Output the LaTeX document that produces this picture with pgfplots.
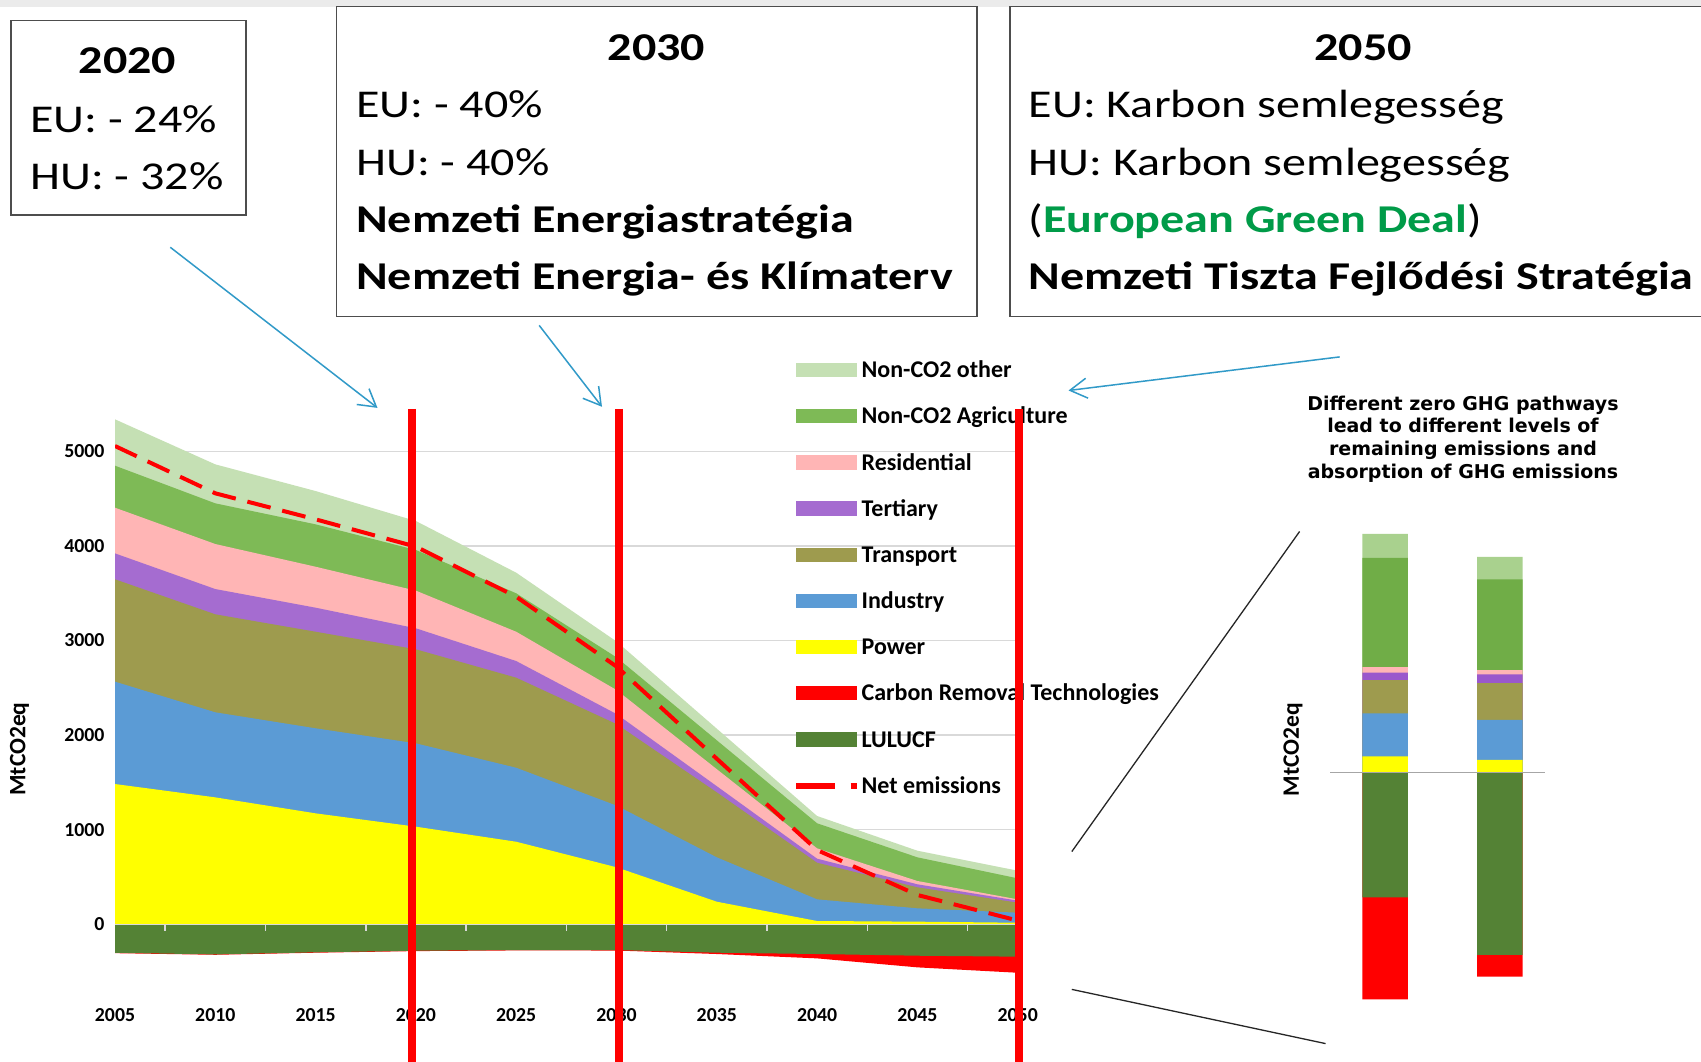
\documentclass[border=0pt]{standalone}
\usepackage{pgfplots}
\pgfplotsset{compat=1.18}
\usepackage{pgfplotstable}
\usepackage{fontspec}
\setmainfont{Carlito}
\newfontfamily\boxfont{Carlito}[FakeStretch=1.22]
\newfontfamily\titlefont{DejaVu Sans}
\usetikzlibrary{arrows.meta}

\definecolor{cOther}{HTML}{C5E0B4}
\definecolor{cAgri}{HTML}{7EBA56}
\definecolor{cRes}{HTML}{FFB5B5}
\definecolor{cTer}{HTML}{A56CD0}
\definecolor{cTra}{HTML}{9E9B4E}
\definecolor{cInd}{HTML}{5B9BD5}
\definecolor{cPow}{HTML}{FFFF00}
\definecolor{cCR}{HTML}{FF0000}
\definecolor{cLU}{HTML}{548235}
\definecolor{cGrid}{HTML}{D9D9D9}
\definecolor{cArrow}{HTML}{319AC8}
\definecolor{cBoxLine}{HTML}{4D4D4D}
\definecolor{cGreenText}{HTML}{009B48}
\definecolor{bOther}{HTML}{A9D18E}
\definecolor{bAgri}{HTML}{70AD47}
\definecolor{bTer}{HTML}{9A58CC}

% cumulative tops (MtCO2eq)
\pgfplotstableread{
year power industry transport tertiary residential agri other net lulucf cr
2005 1483 2565 3647 3921 4404 4848 5338 5056 -301 -305
2010 1342 2241 3277 3544 4020 4450 4862 4556 -318 -322
2015 1173 2072 3093 3347 3780 4228 4580 4281 -296 -300
2020 1032 1913 2907 3129 3527 3957 4263 3992 -279 -283
2025 873 1655 2607 2783 3093 3499 3717 3463 -272 -276
2030 603 1255 2117 2223 2477 2822 2990 2725 -272 -277
2035 239 708 1395 1460 1640 1945 2068 1750 -300 -314
2040 35 264 651 694 803 1068 1145 785 -314 -360
2045 28 169 391 423 458 708 778 310 -332 -455
2050 17 123 229 250 264 486 567 40 -342 -512
}\maindata

% cumulative tops of the two pathway bars
\pgfplotstableread{
x power industry transport tertiary residential agri other lulucf cr
1 161 590 924 998 1054 2147 2386 -1248 -2268
2 126 525 894 981 1024 1930 2156 -1825 -2042
}\bardata

\begin{document}
\begin{tikzpicture}[x=1pt,y=1pt]
\useasboundingbox (0,0) rectangle (1701,1061);
\fill[white] (0,0) rectangle (1701,1061);
\fill[black!8] (0,1054.3) rectangle (1701,1061);

\begin{axis}[
  at={(115pt,61pt)}, anchor=south west,
  x=20.06pt, y=0.0946pt,
  xmin=2005, xmax=2050, ymin=-800, ymax=5500,
  axis line style={draw=none},
  major tick length=0pt,
  xtick={2005,2010,...,2050},
  ytick={0,1000,...,5000},
  ymajorgrids, grid style={cGrid, line width=1.3pt},
  /pgf/number format/1000 sep={},
  /pgf/number format/assume math mode=true,
  tick label style={font=\bfseries\fontsize{19.8}{20}\selectfont},
  xticklabel style={yshift=-5.3pt},
  yticklabel style={xshift=-7pt},
  legend cell align=left,
  legend style={at={(0.7511,1.0725)}, anchor=north west, draw=none, fill=none,
    inner sep=0pt, outer sep=0pt, row sep=24.15pt,
    font=\bfseries\fontsize{24}{24}\selectfont,
    nodes={inner sep=0pt, text height=17pt, text depth=5pt},
    cells={anchor=base west},
    /tikz/every odd column/.append style={column sep=1.6pt}},
]
\addplot[fill=cOther, draw=none, forget plot] table[x=year,y=other]{\maindata} \closedcycle;
\addplot[fill=cAgri, draw=none, forget plot] table[x=year,y=agri]{\maindata} \closedcycle;
\addplot[fill=cRes, draw=none, forget plot] table[x=year,y=residential]{\maindata} \closedcycle;
\addplot[fill=cTer, draw=none, forget plot] table[x=year,y=tertiary]{\maindata} \closedcycle;
\addplot[fill=cTra, draw=none, forget plot] table[x=year,y=transport]{\maindata} \closedcycle;
\addplot[fill=cInd, draw=none, forget plot] table[x=year,y=industry]{\maindata} \closedcycle;
\addplot[fill=cPow, draw=none, forget plot] table[x=year,y=power]{\maindata} \closedcycle;
\addplot[fill=cCR, draw=none, forget plot] table[x=year,y=cr]{\maindata} \closedcycle;
\addplot[fill=cLU, draw=none, forget plot] table[x=year,y=lulucf]{\maindata} \closedcycle;
\addplot[draw=cGrid, line width=1.5pt, forget plot] coordinates {(2005,0) (2050,0)};
\addplot[ycomb, draw=cGrid, line width=1.5pt, forget plot] coordinates {(2007.5,-74) (2012.5,-74) (2017.5,-74) (2022.5,-74) (2027.5,-74) (2032.5,-74) (2037.5,-74) (2042.5,-74) (2047.5,-74)};
\addplot[red, line width=4pt, dash pattern=on 24pt off 12pt, forget plot] table[x=year,y=net]{\maindata};

\addlegendimage{legend image code/.code={\fill[cOther] (0pt,1.3pt) rectangle (60pt,14.7pt);}}
\addlegendentry{Non-CO2 other}
\addlegendimage{legend image code/.code={\fill[cAgri] (0pt,1.3pt) rectangle (60pt,14.7pt);}}
\addlegendentry{Non-CO2 Agriculture}
\addlegendimage{legend image code/.code={\fill[cRes] (0pt,1.3pt) rectangle (60pt,14.7pt);}}
\addlegendentry{Residential}
\addlegendimage{legend image code/.code={\fill[cTer] (0pt,1.3pt) rectangle (60pt,14.7pt);}}
\addlegendentry{Tertiary}
\addlegendimage{legend image code/.code={\fill[cTra] (0pt,1.3pt) rectangle (60pt,14.7pt);}}
\addlegendentry{Transport}
\addlegendimage{legend image code/.code={\fill[cInd] (0pt,1.3pt) rectangle (60pt,14.7pt);}}
\addlegendentry{Industry}
\addlegendimage{legend image code/.code={\fill[cPow] (0pt,1.3pt) rectangle (60pt,14.7pt);}}
\addlegendentry{Power}
\addlegendimage{legend image code/.code={\fill[cCR] (0pt,1.3pt) rectangle (60pt,14.7pt);}}
\addlegendentry{Carbon Removal Technologies}
\addlegendimage{legend image code/.code={\fill[cLU] (0pt,1.3pt) rectangle (60pt,14.7pt);}}
\addlegendentry{LULUCF}
\addlegendimage{legend image code/.code={\draw[red, line width=6pt, dash pattern=on 39pt off 15.5pt on 6.5pt off 60pt] (0pt,6.7pt) -- (61pt,6.7pt);}}
\addlegendentry{Net emissions}
\end{axis}

% pathway bars
\begin{axis}[
  at={(1330pt,38.5pt)}, anchor=south west,
  x=114.9pt, y=0.1pt,
  xmin=0.5213, xmax=2.3925, ymin=-2500, ymax=2500,
  hide axis, clip=false,
]
\addplot[ybar, bar width=45.5pt, bar shift=0pt, fill=bOther, draw=none] table[x=x,y=other]{\bardata};
\addplot[ybar, bar width=45.5pt, bar shift=0pt, fill=bAgri, draw=none] table[x=x,y=agri]{\bardata};
\addplot[ybar, bar width=45.5pt, bar shift=0pt, fill=cRes, draw=none] table[x=x,y=residential]{\bardata};
\addplot[ybar, bar width=45.5pt, bar shift=0pt, fill=bTer, draw=none] table[x=x,y=tertiary]{\bardata};
\addplot[ybar, bar width=45.5pt, bar shift=0pt, fill=cTra, draw=none] table[x=x,y=transport]{\bardata};
\addplot[ybar, bar width=45.5pt, bar shift=0pt, fill=cInd, draw=none] table[x=x,y=industry]{\bardata};
\addplot[ybar, bar width=45.5pt, bar shift=0pt, fill=cPow, draw=none] table[x=x,y=power]{\bardata};
\addplot[ybar, bar width=45.5pt, bar shift=0pt, fill=cCR, draw=none] table[x=x,y=cr]{\bardata};
\addplot[ybar, bar width=45.5pt, bar shift=0pt, fill=cLU, draw=none] table[x=x,y=lulucf]{\bardata};
\addplot[draw=black!35, line width=1.5pt] coordinates {(0.5213,0) (2.3925,0)};
\end{axis}

% red year markers
\draw[cCR, line width=8pt] (411.6,652) -- (411.6,-5);
\draw[cCR, line width=8pt] (618.8,652) -- (618.8,-5);
\draw[cCR, line width=8pt] (1018.8,652) -- (1018.8,-5);

% axis titles
\node[rotate=90, inner sep=0pt, font=\bfseries\fontsize{23.5}{24}\selectfont] at (19.5,312) {MtCO2eq};
\node[rotate=90, inner sep=0pt, font=\bfseries\fontsize{23.5}{24}\selectfont] at (1293,311.5) {MtCO2eq};

% pathway title
\begin{scope}[every node/.style={anchor=base, inner sep=0pt, font=\titlefont\bfseries\fontsize{19}{20}\selectfont}]
\node at (1463,650.6) {Different zero GHG pathways};
\node at (1463,628.1) {lead to different levels of};
\node at (1463,605.1) {remaining emissions and};
\node at (1463,582.6) {absorption of GHG emissions};
\end{scope}

% zoom lines
\draw[black!85, line width=1.3pt] (1071.8,209.4) -- (1299.6,529.5);
\draw[black!85, line width=1.3pt] (1071.8,71.6) -- (1325.6,17.4);

% arrows
\draw[cArrow, line width=1.5pt, -{Straight Barb[length=17pt,width=20pt]}] (170.3,813.7) -- (377.5,653.1);
\draw[cArrow, line width=1.5pt, -{Straight Barb[length=17pt,width=20pt]}] (539.2,735.6) -- (602,654.2);
\draw[cArrow, line width=1.5pt, -{Straight Barb[length=17pt,width=20pt]}] (1339.7,704.1) -- (1068.5,670.5);

% boxes
\draw[cBoxLine, line width=1.6pt, fill=white] (10.7,1040.3) rectangle (245.7,846);
\draw[cBoxLine, line width=1.6pt, fill=white] (336.3,1054.3) rectangle (976.9,744.3);
\draw[cBoxLine, line width=1.6pt, fill=white] (1010,1054.3) rectangle (1716,744.3);

\begin{scope}[every node/.style={inner sep=0pt, font=\boxfont\fontsize{39.4}{40}\selectfont}]
\node[anchor=base, font=\boxfont\bfseries\fontsize{39.4}{40}\selectfont] at (127.5,987) {2020};
\node[anchor=base west] at (30,928.3) {EU: - 24\%};
\node[anchor=base west] at (30,871.7) {HU: - 32\%};

\node[anchor=base, font=\boxfont\bfseries\fontsize{39.4}{40}\selectfont] at (656.6,1000.3) {2030};
\node[anchor=base west] at (356,943.7) {EU: - 40\%};
\node[anchor=base west] at (356,885) {HU: - 40\%};
\node[anchor=base west, font=\boxfont\bfseries\fontsize{39.4}{40}\selectfont] at (356,828.7) {Nemzeti Energiastratégia};
\node[anchor=base west, font=\boxfont\bfseries\fontsize{39.4}{40}\selectfont] at (356,771) {Nemzeti Energia- és Klímaterv};

\node[anchor=base, font=\boxfont\bfseries\fontsize{39.4}{40}\selectfont] at (1363,1000.3) {2050};
\node[anchor=base west] at (1028.5,943.7) {EU: Karbon semlegesség};
\node[anchor=base west] at (1028.5,885) {HU: Karbon semlegesség};
\node[anchor=base west] at (1028.5,828.7) {(\textcolor{cGreenText}{\bfseries European Green Deal})};
\node[anchor=base west, font=\boxfont\bfseries\fontsize{39.4}{40}\selectfont] at (1028.5,771) {Nemzeti Tiszta Fejlődési Stratégia};
\end{scope}
\end{tikzpicture}
\end{document}
